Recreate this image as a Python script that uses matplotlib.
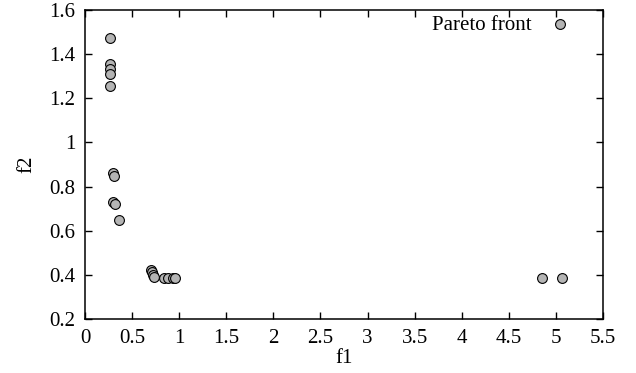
import matplotlib
matplotlib.use("Agg")
import matplotlib.pyplot as plt

f1 = [0.265, 0.27, 0.27, 0.27, 0.27, 0.293, 0.308, 0.30, 0.318, 0.364,
      0.697, 0.711, 0.725, 0.736, 0.842, 0.885, 0.938, 0.955, 4.848, 5.064]
f2 = [1.472, 1.357, 1.334, 1.312, 1.257, 0.86, 0.848, 0.731, 0.721, 0.647,
      0.422, 0.411, 0.399, 0.389, 0.384, 0.384, 0.384, 0.384, 0.384, 0.384]
xticks = [0, 0.5, 1, 1.5, 2, 2.5, 3, 3.5, 4, 4.5, 5, 5.5]
yticks = [0.2, 0.4, 0.6, 0.8, 1.0, 1.2, 1.4, 1.6]
xlabels = ["0", "0.5", "1", "1.5", "2", "2.5", "3", "3.5", "4", "4.5", "5", "5.5"]
ylabels = ["0.2", "0.4", "0.6", "0.8", "1", "1.2", "1.4", "1.6"]

plt.rcParams['font.family'] = ['Liberation Serif', 'DejaVu Serif']
fig = plt.figure(figsize=(6.36, 3.73), dpi=100)
ax = fig.add_axes([85/636, 1 - 319/373, (603 - 85)/636, (319 - 10)/373])

ax.scatter(f1, f2, s=50, facecolor='#b4b4b4', edgecolor='black', linewidths=0.8,
           label='Pareto front', zorder=3)

ax.set_xlim(0, 5.5)
ax.set_ylim(0.2, 1.6)
ax.set_xticks(xticks)
ax.set_xticklabels(xlabels)
ax.set_yticks(yticks)
ax.set_yticklabels(ylabels)
ax.tick_params(direction='in', length=5, width=1, top=True, right=True,
               labelsize=15, pad=7)
for s in ax.spines.values():
    s.set_linewidth(1.1)

ax.set_xlabel('f1', fontsize=15, labelpad=1)
ax.set_ylabel('f2', fontsize=15, labelpad=9)

ax.legend(loc='center right', bbox_to_anchor=(0.937, 0.951), frameon=False,
          markerfirst=False, fontsize=15, handletextpad=0.85, borderaxespad=0.0,
          borderpad=0.0, scatterpoints=1, handlelength=1.0)

fig.savefig('out.png', dpi=100)
